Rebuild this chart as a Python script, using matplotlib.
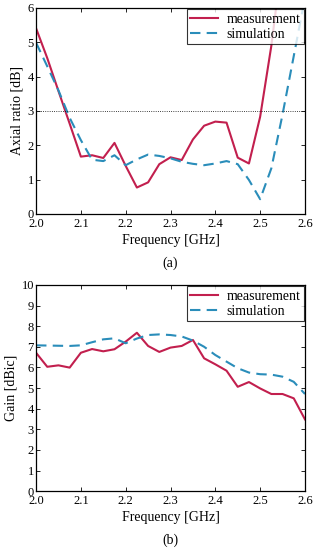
import numpy as np
import matplotlib.pyplot as plt

plt.rcParams['font.family'] = ['Liberation Serif', 'DejaVu Serif']

freq = np.round(np.arange(2.0, 2.6001, 0.025), 3)

# axial ratio [dB]
ar_meas = [5.41, 4.54, 3.58, 2.63, 1.67, 1.71, 1.63, 2.07, 1.40, 0.77, 0.92, 1.45, 1.65,
           1.57, 2.17, 2.57, 2.69, 2.66, 1.64, 1.47, 2.83, 4.90, 7.5, 8.0, 8.0]
ar_sim = [4.99, 4.30, 3.60, 2.80, 2.15, 1.58, 1.54, 1.71, 1.42, 1.59, 1.73, 1.69, 1.62,
          1.52, 1.46, 1.42, 1.47, 1.54, 1.45, 0.99, 0.43, 1.33, 2.90, 4.60, 6.30]

# gain [dBic]
gain_meas = [6.71, 6.03, 6.10, 5.99, 6.71, 6.89, 6.78, 6.88, 7.25, 7.68, 7.04, 6.75, 6.96,
             7.04, 7.33, 6.44, 6.15, 5.84, 5.06, 5.29, 4.98, 4.71, 4.71, 4.50, 3.48]
gain_sim = [7.07, 7.06, 7.05, 7.04, 7.07, 7.22, 7.36, 7.41, 7.17, 7.40, 7.57, 7.60, 7.57,
            7.50, 7.30, 7.00, 6.60, 6.28, 5.96, 5.75, 5.67, 5.65, 5.55, 5.30, 4.71]

red = '#c21f4e'
blue = '#2a8dba'

fig = plt.figure(figsize=(3.19, 5.5), dpi=100)
ax1 = fig.add_axes([0.113, 0.611, 0.843, 0.3745])
ax2 = fig.add_axes([0.113, 0.107, 0.843, 0.375])

def style(ax, ymax, ylabel, tag):
    ax.set_xlim(2.0, 2.6)
    ax.set_ylim(0, ymax)
    ax.set_xticks(np.arange(2.0, 2.61, 0.1))
    ax.set_xticklabels(['%.1f' % v for v in np.arange(2.0, 2.61, 0.1)])
    ax.set_yticks(range(0, ymax + 1))
    ax.tick_params(direction='in', top=True, right=True, labelsize=9, length=3, width=0.6, pad=1.5)
    ax.tick_params(axis='x', pad=3)
    for s in ax.spines.values():
        s.set_linewidth(0.9)
    ax.set_xlabel('Frequency [GHz]', fontsize=10, labelpad=3)
    ax.set_ylabel(ylabel, fontsize=10, labelpad=3)
    ax.text(0.5, -0.24, tag, transform=ax.transAxes, ha='center', va='center', fontsize=10)
    leg = ax.legend(loc='upper right', fontsize=10, frameon=True, fancybox=False,
                    borderpad=0.25, labelspacing=0.15, handlelength=2.0, handletextpad=0.6,
                    borderaxespad=0.1)
    leg.get_frame().set_edgecolor('black')
    leg.get_frame().set_linewidth(0.8)

ax1.plot(freq, ar_meas, color=red, lw=1.5, label='measurement')
ax1.plot(freq, ar_sim, color=blue, lw=1.5, ls=(0, (5, 3)), label='simulation')
ax1.axhline(3, color='black', lw=0.6, ls=':')
style(ax1, 6, 'Axial ratio [dB]', '(a)')

ax2.plot(freq, gain_meas, color=red, lw=1.5, label='measurement')
ax2.plot(freq, gain_sim, color=blue, lw=1.5, ls=(0, (5, 3)), label='simulation')
style(ax2, 10, 'Gain [dBic]', '(b)')

fig.savefig('out.png', dpi=100)
